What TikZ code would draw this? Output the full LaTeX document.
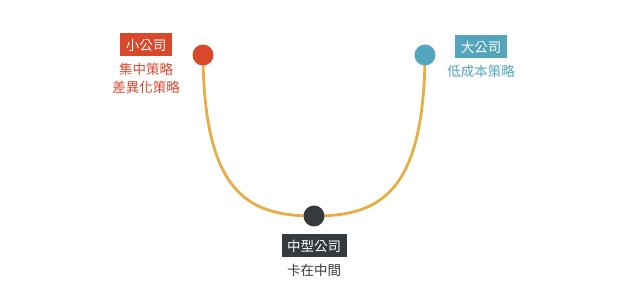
\documentclass[tikz,border=0pt]{standalone}
\usepackage{fontspec}
\newfontfamily\cjk{Noto Sans CJK TC}
\definecolor{cred}{HTML}{D9482B}
\definecolor{cblue}{HTML}{52A5BC}
\definecolor{cdark}{HTML}{363A3D}
\definecolor{corange}{HTML}{E8AE45}
\begin{document}
\begin{tikzpicture}[x=1pt,y=-1pt,
  tag/.style={fill=#1,text=white,font=\cjk\fontsize{13.5}{15}\selectfont,inner xsep=5.5pt,inner ysep=3pt,minimum height=23pt},
  sub/.style={text=#1,font=\cjk\fontsize{13.5}{18}\selectfont,inner sep=0pt,align=center},
  dot/.style={circle,fill=#1,minimum size=21pt,inner sep=0pt}]
\useasboundingbox (0,0) rectangle (641,302);
\draw[corange,line width=2.8pt] (203,55) .. controls (204,195) and (250,216) .. (314,216)
  .. controls (378,216) and (424,195) .. (425,55);
\node[dot=cred] (small) at (203,55) {};
\node[dot=cblue] (large) at (425,55) {};
\node[dot=cdark] (mid) at (314,216) {};
\node[tag=cred] (smallt) at (146,45) {小公司};
\node[sub=cred] (smalls) at (146,78) {集中策略\\差異化策略};
\node[tag=cblue] (larget) at (481,47) {大公司};
\node[sub=cblue] (larges) at (481,71) {低成本策略};
\node[tag=cdark] (midt) at (314,246) {中型公司};
\node[sub=cdark] (mids) at (314,270) {卡在中間};
\end{tikzpicture}
\end{document}
